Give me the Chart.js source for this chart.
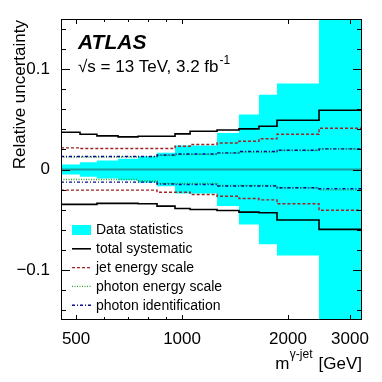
<!DOCTYPE html>
<html>
<head>
<meta charset="utf-8">
<script src="https://cdn.jsdelivr.net/npm/chart.js@4.4.0/dist/chart.umd.min.js"></script>
<style>
  html, body { margin: 0; padding: 0; background: #fff; }
  canvas { display: block; }
</style>
</head>
<body>
<canvas id="sysChart" width="382" height="382"></canvas>
<script>
// bin edges of m(gamma-jet) in GeV
const binEdges = [453, 513, 573, 658, 750, 849, 955, 1054, 1257, 1451, 1654, 1861, 2450, 3245];

// relative uncertainties per bin
const dataStat = [0.005, 0.0073, 0.009, 0.0106, 0.0132, 0.0166, 0.024, 0.024, 0.0365, 0.0547, 0.0746, 0.0856, 0.2];
const totalUp = [0.0371, 0.0352, 0.0335, 0.0325, 0.0331, 0.0331, 0.0355, 0.0381, 0.0393, 0.0405, 0.0431, 0.0491, 0.059];
const totalDown = [-0.0348, -0.0348, -0.0338, -0.0338, -0.0341, -0.0365, -0.0388, -0.0398, -0.0408, -0.0425, -0.0431, -0.0504, -0.0597];
const jesUp = [0.0216, 0.0209, 0.0209, 0.0209, 0.0209, 0.0209, 0.0232, 0.0249, 0.0264, 0.0282, 0.0306, 0.0351, 0.0411];
const jesDown = [-0.0206, -0.0206, -0.0206, -0.0206, -0.0206, -0.0226, -0.0226, -0.0249, -0.0266, -0.0289, -0.0303, -0.0341, -0.0406];
const phEsUp = [0.0124, 0.0124, 0.0124, 0.0124, 0.0126, 0.014, 0.015, 0.015, 0.0162, 0.0175, 0.0175, 0.019, 0.0204];
const phEsDown = [-0.01, -0.01, -0.01, -0.01, -0.0115, -0.014, -0.014, -0.014, -0.016, -0.016, -0.016, -0.0185, -0.0206];
const phIdUp = [0.0129, 0.0129, 0.0129, 0.0129, 0.0129, 0.0144, 0.0154, 0.0154, 0.0166, 0.0179, 0.0179, 0.0192, 0.0206];
const phIdDown = [-0.0126, -0.0126, -0.0126, -0.0126, -0.0126, -0.0144, -0.0149, -0.0149, -0.0164, -0.0164, -0.0164, -0.0182, -0.0192];

// axis ticks
const xTicks = [500, 600, 700, 800, 900, 1000, 2000, 3000];
const xLabels = [500, 1000, 2000, 3000];
const yTicks = [-0.14, -0.12, -0.1, -0.08, -0.06, -0.04, -0.02, 0, 0.02, 0.04, 0.06, 0.08, 0.1, 0.12, 0.14];
const yMajor = [-0.1, 0, 0.1];
const yMajorLabels = ["\u22120.1", "0", "0.1"];

const legendLabels = ["Data statistics", "total systematic", "jet energy scale", "photon energy scale", "photon identification"];

const FONT = '"Liberation Sans", Arial, Helvetica, sans-serif';
const CYAN = "#00ffff";
const JES_COL = "#9e2424";
const PES_COL = "#2fa52f";
const PID_COL = "#0a0a96";

function steps(vals) {
    return binEdges.map((e, i) => ({ x: e, y: vals[Math.min(i, vals.length - 1)] }));
}

function line(vals, color, dash, width, order) {
    return {
        data: steps(vals),
        borderColor: color,
        borderDash: dash,
        borderWidth: width,
        pointRadius: 0,
        stepped: "before",
        fill: false,
        order: order,
    };
}

const yMajorIdx = (v) => yMajor.findIndex((m) => Math.abs(m - v) < 1e-9);

const frame = {
    id: "frame",
    afterDraw(chart) {
        const { ctx, chartArea, scales } = chart;
        const { left, right, top, bottom } = chartArea;
        ctx.save();
        ctx.strokeStyle = "#000";
        ctx.lineWidth = 1;
        ctx.strokeRect(left + 0.5, top + 0.5, right - left - 1, bottom - top - 1);

        ctx.beginPath();
        xTicks.forEach((v) => {
            const px = Math.round(scales.x.getPixelForValue(v)) + 0.5;
            const len = xLabels.includes(v) ? 5 : 3;
            ctx.moveTo(px, bottom); ctx.lineTo(px, bottom - len);
            ctx.moveTo(px, top); ctx.lineTo(px, top + len);
        });
        yTicks.forEach((v) => {
            const py = Math.round(scales.y.getPixelForValue(v)) + 0.5;
            const len = yMajorIdx(v) >= 0 ? 9 : 5;
            ctx.moveTo(left, py); ctx.lineTo(left + len, py);
            ctx.moveTo(right, py); ctx.lineTo(right - len, py);
        });
        ctx.stroke();

        // ATLAS label
        ctx.fillStyle = "#000";
        ctx.textBaseline = "alphabetic";
        ctx.textAlign = "left";
        ctx.font = "italic bold 21px " + FONT;
        ctx.fillText("ATLAS", 78, 49);
        ctx.font = "17px " + FONT;
        const s = "\u221As = 13 TeV, 3.2 fb";
        ctx.fillText(s, 78, 72);
        const w = ctx.measureText(s).width;
        ctx.font = "12px " + FONT;
        ctx.fillText("-1", 78 + w + 1, 64);

        // legend
        legendLabels.forEach((lab, i) => {
            const cy = 230 + i * 18.8;
            ctx.save();
            if (i === 0) {
                ctx.fillStyle = CYAN;
                ctx.fillRect(72, cy - 5, 19, 10);
            } else {
                const st = [
                    null,
                    ["#000", [], 1.6],
                    [JES_COL, [3, 2], 1.4],
                    [PES_COL, [1, 1.5], 1.4],
                    [PID_COL, [3, 2, 1, 2], 1.4],
                ][i];
                ctx.strokeStyle = st[0];
                ctx.setLineDash(st[1]);
                ctx.lineWidth = st[2];
                ctx.beginPath();
                ctx.moveTo(72, cy);
                ctx.lineTo(91, cy);
                ctx.stroke();
            }
            ctx.restore();
            ctx.fillStyle = "#000";
            ctx.font = "14px " + FONT;
            ctx.textBaseline = "middle";
            ctx.fillText(lab, 96, cy + 0.5);
        });

        // x title
        ctx.textBaseline = "alphabetic";
        ctx.textAlign = "right";
        ctx.font = "17px " + FONT;
        ctx.fillText("[GeV]", 362, 369);
        const wg = ctx.measureText("[GeV]").width;
        ctx.font = "12px " + FONT;
        const supR = 362 - wg - 6;
        ctx.fillText("\u03B3-jet", supR, 358);
        const ws = ctx.measureText("\u03B3-jet").width;
        ctx.font = "17px " + FONT;
        ctx.fillText("m", supR - ws - 0.5, 369);

        // y title
        ctx.translate(25, 20);
        ctx.rotate(-Math.PI / 2);
        ctx.textAlign = "right";
        ctx.fillText("Relative uncertainty", 0, 0);
        ctx.restore();
    },
};

new Chart(document.getElementById("sysChart"), {
    type: "line",
    data: {
        datasets: [
            line(totalUp, "#000", [], 1.6, 1),
            line(totalDown, "#000", [], 1.6, 1),
            line(jesUp, JES_COL, [3, 2], 1.4, 1),
            line(jesDown, JES_COL, [3, 2], 1.4, 1),
            line(phIdUp, PID_COL, [3, 2, 1, 2], 1.4, 1),
            line(phIdDown, PID_COL, [3, 2, 1, 2], 1.4, 1),
            line(phEsUp, PES_COL, [1, 1.5], 1.4, 2),
            line(phEsDown, PES_COL, [1, 1.5], 1.4, 2),
            line(dataStat.map(() => 0), "#1b9c9c", [], 2, 3),
            {
                data: steps(dataStat),
                borderWidth: 0,
                pointRadius: 0,
                stepped: "before",
                backgroundColor: CYAN,
                fill: "+1",
                order: 10,
            },
            {
                data: steps(dataStat.map((v) => -v)),
                borderWidth: 0,
                pointRadius: 0,
                stepped: "before",
                fill: false,
                order: 10,
            },
        ],
    },
    options: {
        responsive: false,
        animation: false,
        layout: { padding: { top: 19, right: 20, left: 0, bottom: 0 } },
        plugins: { legend: { display: false }, tooltip: { enabled: false } },
        scales: {
            x: {
                type: "logarithmic",
                min: binEdges[0],
                max: binEdges[binEdges.length - 1],
                grid: { display: false },
                border: { display: false },
                afterBuildTicks: (s) => { s.ticks = xTicks.map((v) => ({ value: v })); },
                afterFit: (s) => { s.height = 62; },
                ticks: {
                    autoSkip: false,
                    maxRotation: 0,
                    padding: 1,
                    color: "#000",
                    font: { family: FONT, size: 17 },
                    callback: (v) => (xLabels.includes(v) ? String(v) : ""),
                },
            },
            y: {
                type: "linear",
                min: -0.15,
                max: 0.15,
                grid: { display: false },
                border: { display: false },
                afterBuildTicks: (s) => { s.ticks = yTicks.map((v) => ({ value: v })); },
                afterFit: (s) => { s.width = 61; },
                ticks: {
                    autoSkip: false,
                    padding: 3,
                    color: "#000",
                    font: { family: FONT, size: 17 },
                    callback: (v) => {
                        const k = yMajorIdx(v);
                        return k >= 0 ? yMajorLabels[k] : "";
                    },
                },
            },
        },
    },
    plugins: [frame],
});
</script>
</body>
</html>
